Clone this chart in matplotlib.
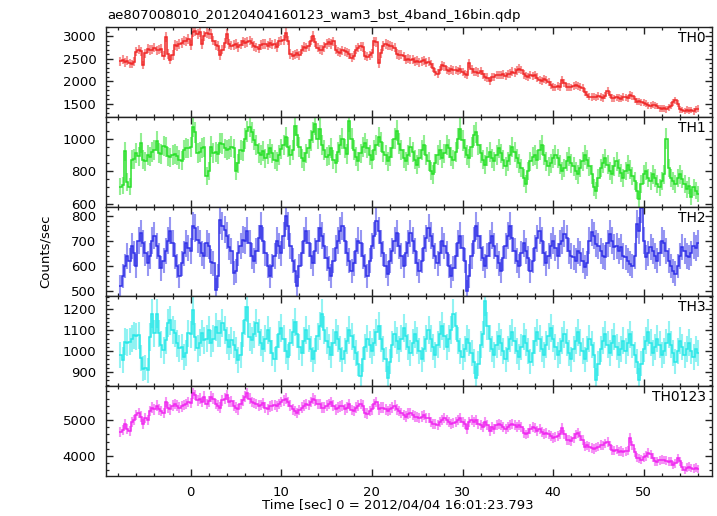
import numpy as np
import matplotlib
matplotlib.use('Agg')
import matplotlib.pyplot as plt
from matplotlib.ticker import MultipleLocator

plt.rcParams['font.family'] = ['DejaVu Sans']

BIN = 0.25
T0 = -7.75

th0 = [
    2440, 2470, 2420, 2450, 2400, 2380, 2430, 2650, 2700, 2660, 2360, 2620,
    2720, 2690, 2700, 2740, 2680, 2700, 2720, 2560, 2980, 2600, 2480, 2580,
    2800, 2780, 2830, 2850, 2900, 2880, 2940, 2800, 3080, 3120, 3050, 3100,
    2820, 3000, 3060, 3040, 3050, 2900, 2800, 2780, 2580, 2700, 2850, 3050,
    2820, 2790, 2800, 2830, 2760, 2810, 2880, 2850, 2870, 2900, 2840, 2780,
    2750, 2720, 2800, 2830, 2820, 2790, 2850, 2810, 2830, 2760, 2880, 2900,
    2920, 3060, 2900, 2600, 2560, 2590, 2620, 2570, 2700, 2760, 2740, 2780,
    2900, 3010, 2860, 2740, 2700, 2690, 2760, 2820, 2860, 2830, 2880, 2700,
    2650, 2630, 2680, 2660, 2640, 2600, 2520, 2560, 2700, 2740, 2770, 2760,
    2560, 2540, 2570, 2620, 2880, 2870, 2400, 2620, 2780, 2820, 2800, 2790,
    2770, 2740, 2600, 2580, 2590, 2550, 2480, 2500, 2470, 2490, 2430, 2450,
    2420, 2440, 2460, 2410, 2430, 2380, 2300, 2200, 2170, 2250, 2355, 2330,
    2250, 2230, 2260, 2240, 2250, 2220, 2260, 2200, 2160, 2133, 2393, 2260,
    2200, 2210, 2190, 2230, 2150, 2100, 2080, 2000, 2100, 2090, 2140, 2130,
    2130, 2150, 2120, 2160, 2170, 2210, 2190, 2240, 2280, 2250, 2150, 2120,
    2100, 2130, 2110, 2140, 2080, 2030, 2010, 2040, 2020, 1980, 1920, 1880,
    1860, 1900, 1870, 2020, 1950, 1870, 1880, 1860, 1890, 1910, 1900, 1880,
    1850, 1760, 1700, 1660, 1650, 1660, 1640, 1670, 1650, 1630, 1680, 1790,
    1700, 1630, 1620, 1640, 1630, 1610, 1650, 1640, 1620, 1690, 1670, 1600,
    1540, 1550, 1530, 1520, 1500, 1470, 1460, 1480, 1470, 1450, 1400, 1390,
    1400, 1380, 1420, 1460, 1530, 1580, 1500, 1380, 1360, 1340, 1370, 1350,
    1360, 1330, 1380, 1390,
]

th1 = [
    705, 712, 922, 735, 705, 870, 875, 913, 891, 975, 870, 860,
    900, 890, 920, 932, 985, 913, 905, 953, 950, 891, 885, 900,
    905, 895, 870, 865, 932, 945, 940, 950, 1075, 1040, 913, 920,
    945, 950, 770, 800, 952, 913, 920, 905, 975, 970, 940, 932,
    935, 952, 940, 800, 850, 932, 925, 1000, 1045, 1075, 1040, 994,
    960, 913, 900, 925, 880, 905, 940, 910, 870, 860, 900, 935,
    960, 1010, 950, 900, 930, 1080, 1020, 950, 880, 860, 910, 940,
    990, 1040, 1090, 1000, 1060, 960, 930, 890, 900, 945, 870, 850,
    920, 960, 1000, 940, 905, 1110, 1000, 930, 890, 860, 910, 950,
    975, 940, 900, 870, 930, 960, 1010, 980, 920, 900, 860, 890,
    940, 1000, 1050, 970, 930, 880, 860, 900, 950, 920, 870, 840,
    880, 930, 960, 900, 860, 800, 780, 850, 900, 930, 880, 910,
    960, 940, 890, 870, 920, 1000, 1060, 990, 940, 900, 880, 950,
    1020, 1040, 960, 910, 870, 840, 890, 920, 880, 860, 900, 940,
    910, 870, 830, 860, 900, 950, 920, 880, 850, 820, 760, 720,
    800, 860, 890, 900, 870, 930, 960, 900, 860, 830, 850, 880,
    900, 880, 840, 800, 820, 860, 890, 850, 830, 800, 780, 820,
    860, 900, 870, 830, 780, 700, 680, 760, 820, 850, 880, 840,
    800, 780, 830, 860, 820, 790, 760, 800, 840, 810, 770, 740,
    680, 630, 720, 780, 800, 760, 740, 780, 760, 720, 700, 740,
    780, 1000, 820, 760, 740, 720, 760, 780, 750, 720, 690, 710,
    640, 700, 680, 660,
]

th2 = [
    520, 560, 600, 640, 620, 680, 650, 600, 700, 730, 690, 650,
    610, 640, 700, 720, 680, 640, 590, 620, 660, 700, 740, 690,
    640, 600, 560, 610, 650, 690, 670, 660, 760, 750, 705, 690,
    650, 640, 690, 680, 617, 610, 506, 560, 784, 760, 744, 720,
    677, 660, 571, 580, 650, 680, 705, 700, 740, 690, 640, 620,
    660, 710, 760, 700, 650, 600, 560, 600, 640, 700, 680, 650,
    720, 800, 760, 680, 620, 580, 520, 600, 650, 700, 740, 690,
    640, 610, 660, 700, 750, 720, 680, 630, 590, 560, 620, 670,
    700, 740, 760, 700, 650, 620, 580, 610, 660, 700, 690, 640,
    600, 560, 620, 680, 720, 780, 740, 690, 650, 600, 570, 620,
    660, 700, 730, 680, 640, 600, 650, 690, 730, 700, 660, 610,
    580, 620, 670, 710, 750, 720, 680, 640, 610, 650, 700, 680,
    650, 600, 560, 590, 640, 690, 720, 670, 620, 500, 560, 640,
    700, 760, 720, 670, 630, 600, 640, 690, 720, 680, 640, 610,
    580, 630, 680, 720, 760, 710, 660, 620, 600, 650, 690, 660,
    630, 580, 620, 670, 710, 740, 700, 650, 610, 640, 680, 700,
    670, 640, 689, 700, 729, 710, 660, 640, 634, 620, 661, 650,
    620, 595, 610, 700, 734, 720, 689, 680, 660, 640, 634, 690,
    729, 700, 674, 680, 660, 674, 640, 634, 620, 609, 600, 640,
    768, 740, 830, 700, 634, 650, 674, 660, 640, 621, 650, 700,
    690, 660, 621, 600, 580, 570, 600, 640, 674, 660, 640, 634,
    650, 681, 670, 690,
]

th3 = [
    980, 956, 1044, 1040, 1044, 1060, 1076, 1070, 1076, 966, 916, 920,
    908, 1067, 1180, 1085, 1180, 1085, 1030, 1004, 1052, 1133, 1147, 1100,
    1085, 1037, 1013, 1020, 972, 990, 1085, 1080, 1195, 1067, 1013, 1040,
    1085, 1052, 1060, 1100, 1037, 1060, 1115, 1085, 1085, 1133, 1100, 1052,
    1020, 1052, 1030, 1004, 956, 980, 1085, 1147, 1210, 1067, 1052, 1080,
    1133, 1090, 1040, 1010, 1060, 1100, 1050, 990, 960, 1020, 1080, 1110,
    1060, 1000, 970, 1040, 1090, 1140, 1080, 1020, 990, 1050, 1100, 1060,
    1010, 960, 1000, 1070, 1120, 1180, 1100, 1050, 1020, 980, 1040, 1090,
    1060, 1010, 960, 1000, 1050, 1100, 1070, 1020, 990, 940, 880, 960,
    1020, 1060, 1030, 1000, 1040, 1090, 1120, 1060, 1010, 960, 870, 950,
    1030, 1080, 1050, 1010, 1060, 1110, 1070, 1020, 990, 1040, 1080, 1050,
    1000, 960, 1010, 1060, 1100, 1060, 1020, 980, 1030, 1080, 1120, 1070,
    1020, 1060, 1100, 1180, 1120, 1050, 1000, 970, 1010, 1060, 1040, 990,
    950, 870, 940, 1030, 1080, 1240, 1120, 1060, 1010, 980, 1030, 1070,
    1040, 1000, 960, 1010, 1060, 1090, 1050, 1000, 970, 1020, 1070, 1040,
    1000, 950, 990, 1050, 1090, 1060, 1010, 980, 1030, 1070, 1110, 1060,
    1020, 980, 1000, 1050, 1080, 1040, 990, 960, 1010, 1050, 1090, 1040,
    1000, 960, 1010, 1060, 1030, 980, 860, 940, 1010, 1050, 1080, 1030,
    990, 1040, 1070, 1020, 980, 1010, 1050, 1000, 1040, 1080, 1030, 980,
    950, 860, 940, 1010, 1050, 1090, 1040, 990, 1020, 1060, 1030, 980,
    1000, 1040, 1080, 1030, 990, 950, 1000, 1050, 1020, 980, 1010, 1040,
    1000, 970, 1010, 990,
]

th0123 = [
    4680, 4720, 4900, 4750, 4700, 4950, 5000, 5150, 5200, 5100, 4900, 5050,
    5000, 5250, 5350, 5300, 5400, 5300, 5250, 5200, 5500, 5350, 5300, 5400,
    5450, 5400, 5350, 5380, 5420, 5450, 5500, 5480, 5750, 5700, 5550, 5600,
    5500, 5650, 5450, 5520, 5650, 5600, 5450, 5400, 5350, 5550, 5600, 5700,
    5500, 5520, 5400, 5350, 5300, 5450, 5550, 5650, 5750, 5600, 5500, 5480,
    5450, 5400, 5420, 5480, 5350, 5300, 5380, 5400, 5420, 5380, 5450, 5500,
    5550, 5600, 5500, 5400, 5300, 5250, 5200, 5280, 5350, 5400, 5450, 5420,
    5500, 5600, 5550, 5450, 5450, 5350, 5350, 5400, 5450, 5500, 5400, 5300,
    5350, 5380, 5400, 5300, 5350, 5450, 5280, 5250, 5350, 5400, 5450, 5400,
    5200, 5180, 5250, 5300, 5450, 5500, 5300, 5350, 5350, 5300, 5250, 5300,
    5350, 5400, 5300, 5250, 5200, 5150, 5100, 5180, 5200, 5150, 5100, 5080,
    5050, 5100, 5150, 5050, 5050, 4950, 4900, 4900, 4850, 4950, 5000, 5050,
    5000, 4950, 4900, 4920, 4950, 5000, 5050, 4950, 4900, 4750, 4950, 5000,
    4950, 5000, 4900, 4850, 4800, 4950, 4850, 4700, 4800, 4750, 4850, 4900,
    4850, 4800, 4750, 4820, 4850, 4900, 4850, 4800, 4850, 4800, 4650, 4600,
    4650, 4750, 4800, 4780, 4700, 4750, 4680, 4620, 4650, 4600, 4550, 4500,
    4530, 4550, 4600, 4777, 4600, 4444, 4450, 4420, 4500, 4600, 4640, 4550,
    4450, 4258, 4300, 4250, 4222, 4200, 4230, 4260, 4305, 4300, 4350, 4397,
    4300, 4166, 4150, 4180, 4120, 4140, 4100, 4130, 4150, 4500, 4300, 4100,
    3950, 3944, 3900, 3960, 4000, 4083, 4050, 3950, 3850, 3840, 3880, 3900,
    3889, 3870, 3840, 3860, 3750, 3800, 3944, 3850, 3700, 3610, 3680, 3700,
    3666, 3650, 3680, 3640,
]

series = [th0, th1, th2, th3, th0123]
names = ['TH0', 'TH1', 'TH2', 'TH3', 'TH0123']
colors = ['#f02828', '#28e028', '#3030e8', '#28e8e8', '#f028f0']
ylims = [(1211, 3200), (582, 1135), (479, 836), (832, 1262), (3444, 5944)]
ymajor = [500, 200, 100, 100, 1000]
yminor = [100, 50, 20, 20, 200]

title = 'ae807008010_20120404160123_wam3_bst_4band_16bin.qdp'
xlabel = 'Time [sec] 0 = 2012/04/04 16:01:23.793'
ylabel = 'Counts/sec'

FS = 9.5
W, H = 717, 516
fig = plt.figure(figsize=(W / 100, H / 100), dpi=100)
left, right = 106 / W, 711.7 / W
top, bottom = 1 - 27 / H, 1 - 476 / H
axes = fig.subplots(5, 1, sharex=True,
                    gridspec_kw=dict(hspace=0, left=left, right=right,
                                     top=top, bottom=bottom))

for ax, vals, name, c, yl, ma, mi in zip(axes, series, names, colors,
                                         ylims, ymajor, yminor):
    v = np.array(vals, dtype=float)
    t = T0 + BIN * np.arange(len(v))
    err = np.sqrt(v * BIN) / BIN
    ax.errorbar(t, v, yerr=err, fmt='none', ecolor=c, alpha=0.5,
                elinewidth=1.5, capsize=0)
    edges = np.append(t - BIN / 2, t[-1] + BIN / 2)
    ax.stairs(v, edges, color=c, linewidth=1.1, baseline=None)
    ax.set_ylim(*yl)
    ax.set_xlim(-9.35, 57.5)
    ax.yaxis.set_major_locator(MultipleLocator(ma))
    ax.yaxis.set_minor_locator(MultipleLocator(mi))
    ax.xaxis.set_major_locator(MultipleLocator(10))
    ax.xaxis.set_minor_locator(MultipleLocator(2))
    ax.tick_params(which='both', direction='in', top=True, right=True,
                   labelsize=FS, pad=7, color='#222222')
    ax.tick_params(which='major', length=5, width=1.0)
    ax.tick_params(which='minor', length=2.5, width=0.9)
    for s in ax.spines.values():
        s.set_linewidth(1.0)
        s.set_color('#222222')
    ax.text(0.99, 0.955, name, transform=ax.transAxes, ha='right', va='top',
            fontsize=FS + 0.5)

fig.text(107 / W, 1 - 16 / H, title, ha='left', va='center', fontsize=FS)
fig.text(397.5 / W, 1 - 505 / H, xlabel, ha='center', va='center',
         fontsize=FS)
fig.text(45 / W, 1 - 251 / H, ylabel, ha='center', va='center',
         rotation=90, fontsize=FS)

fig.savefig('out.png', dpi=100)
